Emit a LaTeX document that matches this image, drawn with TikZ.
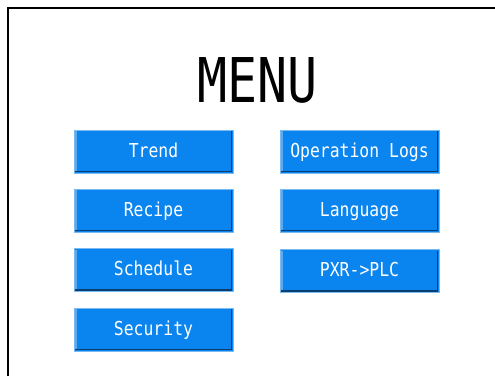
\documentclass[tikz,border=0pt]{standalone}
\usepackage{fontspec}
\newfontfamily\menumono{DejaVu Sans Mono}
\definecolor{btnblue}{HTML}{0A84EE}
\definecolor{btnlight}{HTML}{78BAF2}
\definecolor{btnstripe}{HTML}{5CA9F0}
\definecolor{btndark}{HTML}{0B3D6E}
\newcommand{\btntext}[1]{\scalebox{0.855}[1]{\fontsize{19.2}{20}\menumono #1}}
\tikzset{
  btn/.style={rectangle, minimum width=159pt, minimum height=43pt, inner sep=0pt,
    text height=14pt, text depth=3pt,
    fill=btnblue, draw=btnlight, line width=1pt, text=white,
    path picture={
      \fill[btndark] ([xshift=1pt,yshift=1pt]path picture bounding box.south west) rectangle ([xshift=-1pt,yshift=2.5pt]path picture bounding box.south east);
      \fill[btndark] ([xshift=-2.5pt,yshift=1pt]path picture bounding box.south east) rectangle ([xshift=-1pt,yshift=-1pt]path picture bounding box.north east);
      \fill[btnstripe] ([xshift=1pt,yshift=2.5pt]path picture bounding box.south west) rectangle ([xshift=2.5pt,yshift=-1pt]path picture bounding box.north west);
    }},
  frameline/.style={line width=2pt, black}
}
\begin{document}
\begin{tikzpicture}[x=1pt,y=-1pt]
\useasboundingbox (0,0) rectangle (495,376);
\fill[white] (0,0) rectangle (495,376);
\coordinate (fbl) at (8.3,376);
\coordinate (ftl) at (8.3,8);
\coordinate (ftr) at (495,8);
\draw[frameline] (fbl) -- (ftl) -- (ftr);
\node (title) at (257.5,80.5) {\scalebox{0.81}[1]{\fontsize{61.7}{62}\menumono MENU}};
\node[btn] (trend) at (153.5,151.5) {\btntext{Trend}};
\node[btn] (recipe) at (153.5,210.5) {\btntext{Recipe}};
\node[btn] (schedule) at (153.5,270) {\btntext{Schedule}};
\node[btn] (security) at (153.5,329.5) {\btntext{Security}};
\node[btn] (oplogs) at (359.5,151.5) {\btntext{Operation Logs}};
\node[btn] (language) at (359.5,210.5) {\btntext{Language}};
\node[btn] (pxr) at (359.5,271) {\btntext{PXR->PLC}};
\end{tikzpicture}
\end{document}
